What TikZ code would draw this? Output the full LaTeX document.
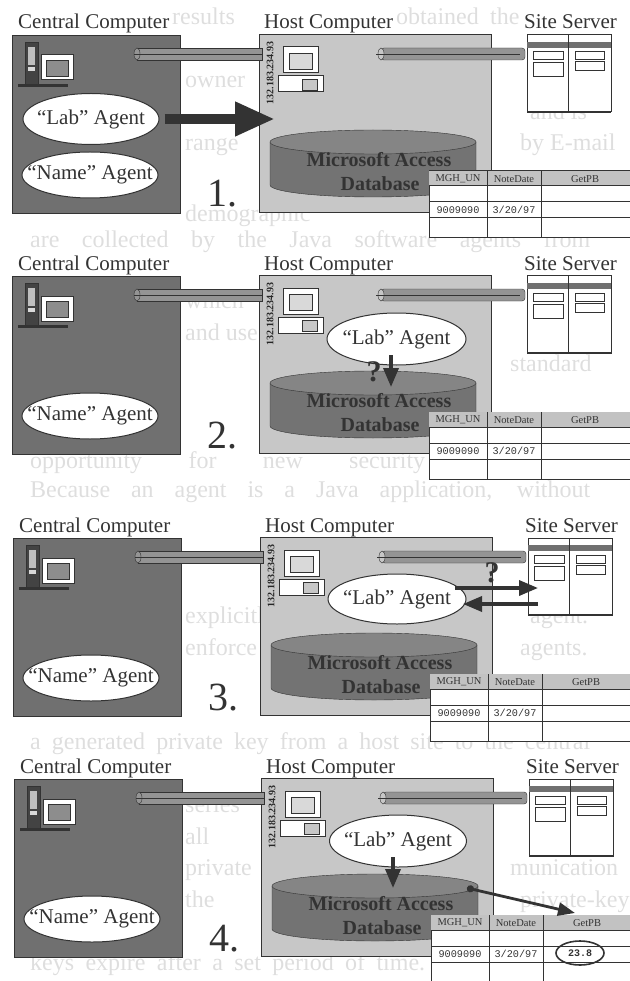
\documentclass[tikz,border=0pt]{standalone}
\usepackage{fontspec}
\setmainfont{Liberation Serif}
\newfontfamily\cellfont{Liberation Mono}
\usetikzlibrary{arrows.meta,shapes.geometric}
\definecolor{inkgray}{gray}{0.2}
\definecolor{centralgray}{gray}{0.44}
\definecolor{hostgray}{gray}{0.78}
\definecolor{dbgray}{gray}{0.45}
\definecolor{dbtopgray}{gray}{0.52}
\definecolor{pipegray}{gray}{0.58}
\definecolor{headgray}{gray}{0.76}
\definecolor{ghostgray}{gray}{0.87}
\tikzset{
  paneltitle/.style={anchor=base west,inner sep=0,text=inkgray,font=\fontsize{21}{21}\selectfont},
  agent/.style={ellipse,draw=inkgray,fill=white,line width=1pt,inner sep=0,text=inkgray,font=\fontsize{21}{21}\selectfont},
  dbtext/.style={inner sep=0,text=black!80,font=\bfseries\fontsize{20}{20}\selectfont},
  tablehead/.style={inner sep=0,text=inkgray,font=\fontsize{10.5}{10.5}\selectfont},
  tablecell/.style={inner sep=0,text=inkgray,font=\cellfont\fontsize{10.2}{10.2}\selectfont},
  ghost/.style={anchor=base west,inner sep=0,text=ghostgray,font=\fontsize{24}{24}\selectfont},
  askmark/.style={inner sep=0,text=inkgray,font=\bfseries\fontsize{30}{30}\selectfont},
  flow/.style={draw=inkgray,line width=3.5pt,-{Triangle[length=19pt,width=15pt]}}
}
\begin{document}
\begin{tikzpicture}[x=1pt,y=-1pt]
\useasboundingbox (0,0) rectangle (629,981);
% page text seen in the gaps, whole lines
\foreach \k/\y/\w/\ln in {a/248/560/{are collected by the Java software agents from},
  b/468/395/{opportunity for new security},
  c/497.5/560/{Because an agent is a Java application, without},
  d/749.5/560/{a generated private key from a host site to the central},
  e/970/395/{keys expire after a set period of time.}} {
  \node[ghost] (line\k) at (30,\y) {\makebox[\w pt][s]{\ln}};
}
% page text seen in the gaps, single words
\foreach \k/\x/\y/\ln in {a/172/25/results,b/396/25/obtained,c/490/25/the,d/185/88/owner,
  e/530/119.5/and is,f/520/151/by E-mail,g/185/151/range,,h/185/222/demographic,
  i/185/308.5/which,j/185/340/and use,k/510/371.5/standard,
  m/530/623.5/agent.,n/520/655/agents.,o/185/623.5/explicitly,p/185/655/enforce,
  q/185/812.5/series,r/185/844/all,s/185/875.5/private,t/510/875.5/munication,
  u/185/907/the,v/520/907/private-key} {
  \node[ghost] (word\k) at (\x,\y) {\ln};
}
% the four panels
\foreach \n/\t/\dx in {1/35/0,2/276/0,3/538/1,4/779/2} {
  \begin{scope}[shift={(\dx,\t)}]
    \node[paneltitle] (centraltitle\n) at (18,-6) {Central Computer};
    \node[paneltitle] (hosttitle\n) at (264,-6) {Host Computer};
    \node[paneltitle] (sitetitle\n) at (524,-6) {Site Server};
    \fill[centralgray,draw=inkgray] (12,0) rectangle (180,178);
    \fill[hostgray,draw=inkgray] (259,-1) rectangle (491,177);
    % central computer
    \fill[centralgray!60!black,draw=inkgray] (25,7) rectangle (38,49);
    \fill[white!75!black] (28,12) rectangle (35,30);
    \fill[white!85!black] (28,32) rectangle (35,36);
    \fill[white,draw=inkgray,line width=1pt] (41,20) rectangle (73,45);
    \fill[centralgray!80!white,draw=inkgray] (46,25) rectangle (68,41);
    \fill[inkgray] (18,49) rectangle (68,52);
    % host computer
    \fill[white,draw=inkgray,line width=1pt] (283,12) rectangle (318,38);
    \fill[white!85!black,draw=inkgray] (289,18) rectangle (312,34);
    \fill[white,draw=inkgray,line width=1pt] (278,41) rectangle (323,57);
    \fill[hostgray,draw=inkgray] (302,44) rectangle (317,55);
    \node[rotate=90,inner sep=0,text=black!85,font=\bfseries\fontsize{10}{10}\selectfont] (ip\n) at (270,38) {132.183.234.93};
    % pipes
    \fill[pipegray,draw=inkgray] (137,13) rectangle (262,25);
    \draw[inkgray,fill=pipegray] (137,19) ellipse [x radius=3,y radius=6];
    \draw[inkgray] (134,19) -- (262,19);
    \fill[pipegray,draw=inkgray,rounded corners=3pt] (381,13) rectangle (525,25);
    \draw[inkgray,fill=hostgray] (381,19) ellipse [x radius=3,y radius=6];
    \draw[inkgray] (376,19) -- (520,19);
    % site server
    \fill[white,draw=inkgray,line width=1pt] (527,0) rectangle (611,77);
    \fill[inkgray!70!white] (527,7) rectangle (611,13);
    \draw[inkgray,line width=1pt] (568,0) -- (568,77);
    \draw[inkgray,line width=1.6pt] (527,77) -- (611,77);
    \draw[inkgray,line width=1pt] (533,17) rectangle (563,25) (533,28) rectangle (563,42);
    \draw[inkgray,line width=1pt] (575,17) rectangle (604,25) (575,27) rectangle (604,36);
    % database
    \fill[dbgray,draw=inkgray] (270,107) -- (270,150) arc[start angle=180,end angle=0,x radius=103,y radius=12] -- (476,107) -- cycle;
    \node[ellipse,fill=dbtopgray,draw=inkgray,minimum width=206pt,minimum height=24pt,inner sep=0] (dbtop\n) at (373,107) {};
    \node[dbtext] (dbname\n) at (379,125) {Microsoft Access};
    \node[dbtext] (dbword\n) at (380,149) {Database};
    % table
    \fill[white,draw=inkgray,line width=1pt] (429,136) rectangle (631,203);
    \fill[headgray] (429,136) rectangle (631,151);
    \draw[inkgray,line width=1pt] (429,151) -- (631,151) (429,167) -- (631,167) (429,183) -- (631,183);
    \draw[inkgray,line width=1pt] (487,136) -- (487,203) (541,136) -- (541,203);
    \node[tablehead] (mgh\n) at (458,144) {MGH\_UN};
    \node[tablehead] (notedate\n) at (514,144) {NoteDate};
    \node[tablehead] (getpb\n) at (585,144) {GetPB};
    \node[tablecell] (unit\n) at (458,175) {9009090};
    \node[tablecell] (date\n) at (514,175) {3/20/97};
    % name agent and panel number
    \node[agent,minimum width=136pt,minimum height=46pt] (name\n) at (90,140) {\makebox[0pt]{``Name'' Agent}};
    \node[anchor=base west,inner sep=0,text=inkgray,font=\fontsize{40}{40}\selectfont] (number\n) at (207,172) {\n.};
  \end{scope}
}
% panel 1
\node[agent,minimum width=136pt,minimum height=51pt] (lab1) at (91,119) {\makebox[0pt]{``Lab'' Agent}};
\coordinate (labgoal) at (275,119);
\draw[inkgray,line width=10pt,-{Triangle[length=40pt,width=32pt]}] (lab1.east) ++(5,0) -- (labgoal);
% panel 2
\node[agent,minimum width=139pt,minimum height=52pt] (lab2) at (396.5,339) {\makebox[0pt]{``Lab'' Agent}};
\coordinate (labdown2) at (391,355);
\coordinate (dbdown2) at (391,387);
\draw[flow] (labdown2) -- (dbdown2);
\node[askmark] (ask2) at (374,372) {?};
% panel 3
\node[agent,minimum width=138pt,minimum height=50pt] (lab3) at (397,599) {\makebox[0pt]{``Lab'' Agent}};
\coordinate (labout) at (455,588);
\coordinate (serverin) at (538,588);
\coordinate (serverout) at (538,604);
\coordinate (labin) at (463,604);
\draw[flow] (labout) -- (serverin);
\draw[flow] (serverout) -- (labin);
\node[askmark] (ask3) at (492,573) {?};
% panel 4
\node[agent,minimum width=137pt,minimum height=52pt] (lab4) at (398,841) {\makebox[0pt]{``Lab'' Agent}};
\coordinate (labdown4) at (393,857);
\coordinate (dbdown4) at (393,888);
\coordinate (dbedge) at (467,888);
\coordinate (getpbcell) at (575,913);
\draw[flow] (labdown4) -- (dbdown4);
\draw[inkgray,line width=2.8pt,{Circle[length=7pt]}-{Triangle[length=17pt,width=13pt]}] (dbedge) -- (getpbcell);
\node[ellipse,draw=inkgray,line width=1.6pt,minimum width=48pt,minimum height=24pt,inner sep=0,text=inkgray,font=\cellfont\bfseries\fontsize{10}{10}\selectfont] (value) at (580,953) {23.8};
\end{tikzpicture}
\end{document}
